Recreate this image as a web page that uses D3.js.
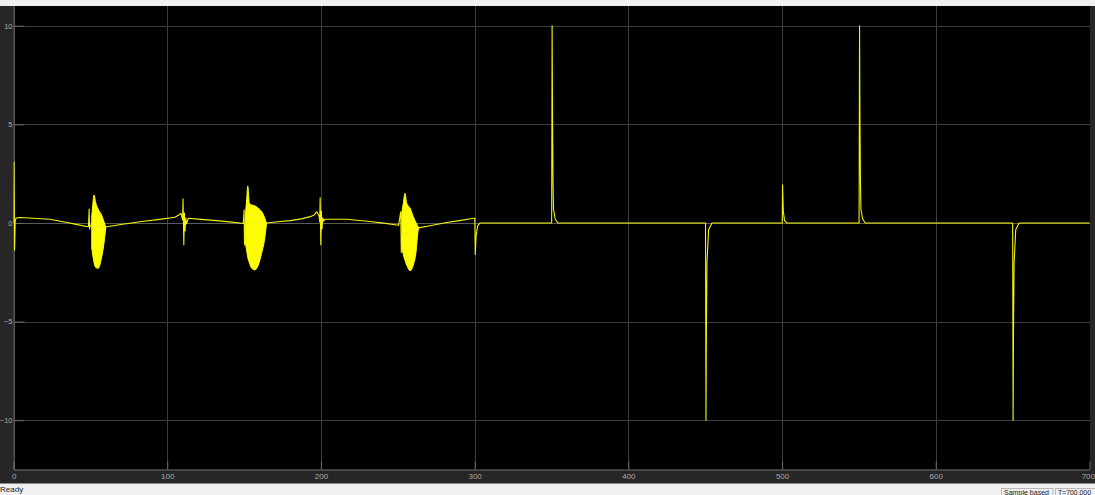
<!DOCTYPE html>
<html>
<head>
<meta charset="utf-8">
<script src="https://cdn.jsdelivr.net/npm/d3@7"></script>
<style>
  html, body { margin: 0; padding: 0; background: #f0f0f0; overflow: hidden; }
  svg { display: block; }
  text { font-family: "Liberation Sans", "DejaVu Sans", sans-serif; }
</style>
</head>
<body>
<svg id="chart" width="1095" height="495"></svg>
<script>
// ---------- data ----------
const xTicks = [0, 100, 200, 300, 400, 500, 600, 700];
const yTicks = [-10, -5, 0, 5, 10];
const xDomain = [0, 700];
const yDomain = [-12.5, 11];

// main trace: time
const traceT = [
  0, 0.35, 0.7, 1.1, 1.7, 4, 10, 23.7, 35, 40, 47.6, 48.8, 49.2, 49.5, 49.9, 50.9,
  59.6, 61.7, 70, 83.4, 95, 105, 107.5, 109, 110, 110.3, 110.8, 111.2, 111.6, 112.1, 112.6, 113.7,
  122, 132.2, 142, 149.5, 150.0, 150.3, 150.6, 151.0,
  164.5, 172, 180, 188, 193, 195.5, 197.3, 198.8, 199.2, 199.5, 199.9, 200.3, 200.7, 201.2, 201.8, 202.7,
  216.8, 232, 242, 249.3, 250.5, 251.9, 252.3, 252.6,
  263.6, 270, 281.8, 290, 299.2, 300.1, 300.4, 301, 302, 303.5,
  350.1, 350.4, 350.7, 351.0, 351.3, 352.4, 354.1,
  450.2, 450.5, 450.8, 451.15, 452.2, 454.4,
  500.1, 500.3, 500.8, 501.6, 503,
  550.1, 550.4, 550.7, 551.0, 551.3, 552.4, 554.1,
  650.0, 650.3, 650.6, 650.95, 652.0, 654.2,
  700
];
// main trace: value
const traceV = [
  0, 3.1, -1.37, 0.1, 0.25, 0.28, 0.25, 0.19, 0.02, -0.06, -0.18, -0.18, 0.7, -0.3, -0.12, -0.1,
  -0.2, -0.18, -0.08, 0.07, 0.18, 0.29, 0.4, 0.49, 0.15, 1.22, -1.1, 0.5, -0.4, 0.25, -0.05, 0.24,
  0.18, 0.12, 0.04, -0.03, 0.66, -1.1, -0.2, 0,
  0, 0.06, 0.12, 0.22, 0.32, 0.4, 0.57, 0.35, 0.05, 1.28, -1.1, 0.6, -0.3, 0.25, 0.1, 0.19,
  0.19, 0.07, -0.02, -0.1, -0.12, 0.57, -1.5, -0.6,
  -0.25, -0.15, 0.02, 0.12, 0.24, 0.24, -1.6, -0.6, -0.15, 0,
  0, 10, 5, 2, 0.7, 0.2, 0,
  0, -10, -5, -2, -0.35, 0,
  0, 1.93, 0.6, 0.12, 0,
  0, 10, 5, 2, 0.7, 0.2, 0,
  0, -10, -5, -2, -0.35, 0,
  0
];

// oscillation bursts: envelope (upper / lower) over time
const burst1T  = [50.9, 51.5, 52.4, 53.4, 55.1, 57.3, 58.9, 60.0];
const burst1Hi = [0.3, 0.85, 1.42, 1.05, 0.7, 0.4, 0.05, -0.2];
const burst1Lo = [-1.27, -1.6, -2.0, -2.25, -2.3, -1.75, -1.0, -0.25];

const burst2T  = [151.0, 151.7, 152.4, 153.4, 155.0, 157.0, 159.2, 161.5, 163.2, 164.5];
const burst2Hi = [0.57, 1.17, 1.88, 1.0, 0.91, 0.87, 0.75, 0.57, 0.3, 0.0];
const burst2Lo = [-1.1, -1.4, -1.75, -2.0, -2.3, -2.38, -2.15, -1.5, -0.9, -0.1];

const burst3T  = [252.6, 253.6, 254.7, 255.8, 258.0, 260.1, 261.9, 263.0, 263.6];
const burst3Hi = [0.5, 1.0, 1.5, 1.0, 0.75, 0.32, 0.0, -0.15, -0.25];
const burst3Lo = [-1.2, -1.6, -1.9, -2.13, -2.42, -2.13, -1.45, -0.52, -0.25];

// ---------- drawing ----------
const svg = d3.select("#chart");
const W = 1095, H = 495;
const plot = { left: 13.5, right: 1090, top: 6, bottom: 469.5 };
const lineColor = "#f4f400";

const x = d3.scaleLinear().domain(xDomain).range([plot.left, 1089.5]);
const y = d3.scaleLinear().domain(yDomain).range([plot.bottom, plot.top]);

// window background pieces
svg.append("rect").attr("x", 0).attr("y", 0).attr("width", W).attr("height", H).attr("fill", "#f0f0f0");
svg.append("rect").attr("x", 0).attr("y", 6).attr("width", W).attr("height", 477.5).attr("fill", "#262626");
svg.append("rect").attr("x", plot.left).attr("y", plot.top)
  .attr("width", plot.right - plot.left).attr("height", plot.bottom - plot.top).attr("fill", "#000");

const defs = svg.append("defs");
defs.append("clipPath").attr("id", "clip").append("rect")
  .attr("x", plot.left).attr("y", plot.top)
  .attr("width", plot.right - plot.left).attr("height", plot.bottom - plot.top);

// grid
const grid = svg.append("g").attr("clip-path", "url(#clip)");
grid.selectAll("line.gx").data(xTicks).join("line")
  .attr("x1", d => Math.round(x(d)) + 0.5).attr("x2", d => Math.round(x(d)) + 0.5)
  .attr("y1", plot.top).attr("y2", plot.bottom)
  .attr("stroke", "#3d3d3d").attr("stroke-width", 1);
grid.selectAll("line.gy").data(yTicks).join("line")
  .attr("y1", d => Math.round(y(d)) + 0.5).attr("y2", d => Math.round(y(d)) + 0.5)
  .attr("x1", plot.left).attr("x2", plot.right)
  .attr("stroke", d => d === 0 ? "#5a5a5a" : "#3d3d3d").attr("stroke-width", 1);

// axes (labels + inner ticks)
const xAxis = d3.axisBottom(x).tickValues(xTicks).tickSizeInner(-8).tickSizeOuter(0).tickPadding(12)
  .tickFormat(d3.format("d"));
const gx = svg.append("g").attr("transform", `translate(0,${plot.bottom})`).call(xAxis);
gx.select(".domain").attr("stroke", "#6a6a6a");
gx.selectAll(".tick line").attr("stroke", "#6a6a6a");
gx.selectAll(".tick text").attr("fill", "#a9a9a9").attr("font-size", "8px").attr("dy", "0").attr("y", 9.5)
  .attr("text-anchor", d => d === xDomain[1] ? "end" : (d === xDomain[0] ? "start" : "middle"))
  .attr("dx", d => d === xDomain[1] ? 5 : (d === xDomain[0] ? -2 : 0));

const yAxis = d3.axisLeft(y).tickValues(yTicks).tickSizeInner(-11).tickSizeOuter(0).tickPadding(14)
  .tickFormat(d3.format("d"));
const gy = svg.append("g").attr("transform", `translate(${plot.left},0)`).call(yAxis);
gy.select(".domain").attr("stroke", "#6a6a6a");
gy.selectAll(".tick line").attr("stroke", "#6a6a6a");
gy.selectAll(".tick text").attr("fill", "#a9a9a9").attr("font-size", "7.5px").attr("x", -1);

// signal
const sig = svg.append("g").attr("clip-path", "url(#clip)");
const trace = traceT.map((t, i) => [t, traceV[i]]);
const line = d3.line().x(d => x(d[0])).y(d => y(d[1]));
const area = d3.area().x(d => x(d[0])).y0(d => y(d[2])).y1(d => y(d[1])).curve(d3.curveMonotoneX);

const bursts = [
  burst1T.map((t, i) => [t, burst1Hi[i], burst1Lo[i]]),
  burst2T.map((t, i) => [t, burst2Hi[i], burst2Lo[i]]),
  burst3T.map((t, i) => [t, burst3Hi[i], burst3Lo[i]])
];
sig.selectAll("path.burst").data(bursts).join("path")
  .attr("class", "burst")
  .attr("d", area)
  .attr("fill", "#ffff00").attr("stroke", "#ffff00").attr("stroke-width", 1);

sig.append("path").datum(trace)
  .attr("d", line)
  .attr("fill", "none").attr("stroke", lineColor).attr("stroke-width", 1.1)
  .attr("stroke-linejoin", "round");

// status bar
svg.append("text").attr("x", 0).attr("y", 492).attr("font-size", "8px").attr("fill", "#222").text("Ready");
const box1 = svg.append("g");
box1.append("rect").attr("x", 1001.5).attr("y", 488.5).attr("width", 51.5).attr("height", 10)
  .attr("fill", "#f0f0f0").attr("stroke", "#b8b8b8");
box1.append("text").attr("x", 1004).attr("y", 494.5).attr("font-size", "7.5px").attr("fill", "#222")
  .attr("textLength", 45).attr("lengthAdjust", "spacingAndGlyphs").text("Sample based");
const box2 = svg.append("g");
box2.append("rect").attr("x", 1055.5).attr("y", 488.5).attr("width", 45).attr("height", 10)
  .attr("fill", "#f0f0f0").attr("stroke", "#b8b8b8");
box2.append("text").attr("x", 1058).attr("y", 494.5).attr("font-size", "7.5px").attr("fill", "#222")
  .attr("textLength", 33).attr("lengthAdjust", "spacingAndGlyphs").text("T=700.000");
</script>
</body>
</html>
